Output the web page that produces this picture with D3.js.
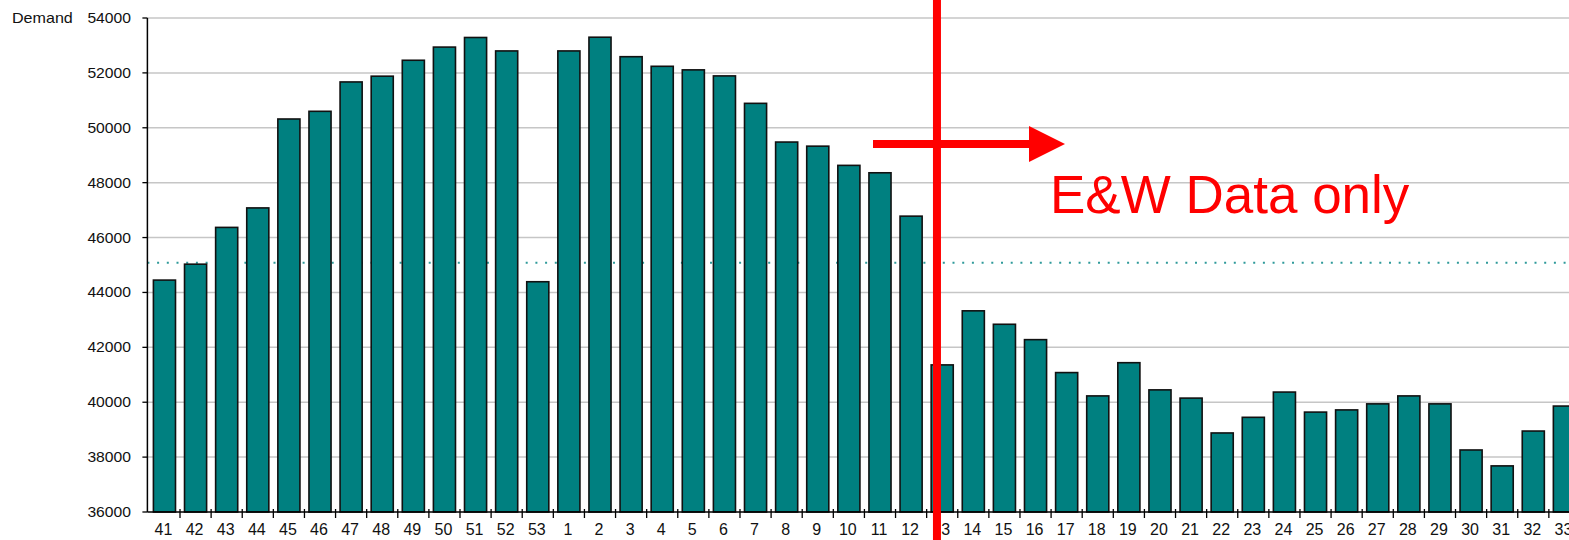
<!DOCTYPE html>
<html>
<head>
<meta charset="utf-8">
<script src="https://cdn.jsdelivr.net/npm/d3@7"></script>
<style>
  html, body { margin: 0; padding: 0; background: #fff; overflow: hidden; }
  text { font-family: "Liberation Sans", Arial, sans-serif; }
</style>
</head>
<body>
<div id="chart"></div>
<script>
// week numbers, Oct 2008 -> Aug 2009
const weeks = ["41","42","43","44","45","46","47","48","49","50","51","52","53",
  "1","2","3","4","5","6","7","8","9","10","11","12","13","14","15","16","17",
  "18","19","20","21","22","23","24","25","26","27","28","29","30","31","32","33"];
const demand = [44450, 45030, 46370, 47080, 50320, 50600, 51670, 51880, 52460, 52940, 53290, 52800, 44390,
  52800, 53300, 52590, 52240, 52110, 51890, 50890, 49480, 49330, 48630, 48360, 46780,
  41360, 43330, 42840, 42280, 41080, 40230, 41440, 40450, 40150, 38880, 39450,
  40370, 39640, 39720, 39940, 40230, 39940, 38260, 37680, 38950, 39860];
const yTicks = [36000, 38000, 40000, 42000, 44000, 46000, 48000, 50000, 52000, 54000];
const averageLine = 45080;
const splitWeek = "13";
const noteText = "E&W Data only";

/** CONSTANTS */
const width = 1569,
  height = 540,
  step = 31.11,
  margin = { top: 18, bottom: 28, left: 148.9 };

/** SCALES */
const xScale = d3.scaleBand()
  .domain(weeks)
  .range([margin.left, margin.left + step * weeks.length])
  .paddingInner(0.29)
  .paddingOuter(0.145);

const yScale = d3.scaleLinear()
  .domain([36000, 54000])
  .range([height - margin.bottom, margin.top]);

const svg = d3.select("#chart")
  .append("svg")
  .attr("width", width)
  .attr("height", height);

const x0 = margin.left - 1.5;
const yBase = yScale(36000);

// gridlines
svg.append("g")
  .selectAll("line")
  .data(yTicks.slice(1))
  .join("line")
  .attr("x1", x0)
  .attr("x2", width)
  .attr("y1", d => yScale(d))
  .attr("y2", d => yScale(d))
  .attr("stroke", "#c6c6c6")
  .attr("stroke-width", 1.5);

// dotted average line (sits behind the bars)
svg.append("line")
  .attr("x1", x0)
  .attr("x2", width)
  .attr("y1", yScale(averageLine))
  .attr("y2", yScale(averageLine))
  .attr("stroke", "#2f9a9a")
  .attr("stroke-width", 2)
  .attr("stroke-dasharray", "2,7.7");

// bars
svg.append("g")
  .selectAll("rect")
  .data(weeks.map((w, i) => ({ week: w, value: demand[i] })))
  .join("rect")
  .attr("x", d => xScale(d.week))
  .attr("y", d => yScale(d.value))
  .attr("width", xScale.bandwidth())
  .attr("height", d => yBase - yScale(d.value))
  .attr("fill", "#008080")
  .attr("stroke", "#111")
  .attr("stroke-width", 1.6);

// y axis
svg.append("line")
  .attr("x1", x0).attr("x2", x0)
  .attr("y1", yScale(54000)).attr("y2", yBase)
  .attr("stroke", "#000").attr("stroke-width", 1.5);

svg.append("g")
  .selectAll("line")
  .data(yTicks)
  .join("line")
  .attr("x1", x0 - 5).attr("x2", x0)
  .attr("y1", d => yScale(d)).attr("y2", d => yScale(d))
  .attr("stroke", "#000").attr("stroke-width", 1.3);

svg.append("g")
  .selectAll("text")
  .data(yTicks)
  .join("text")
  .attr("transform", d => `translate(131, ${yScale(d) + 5}) scale(1.12,1)`)
  .attr("text-anchor", "end")
  .attr("font-size", 14)
  .attr("fill", "#111")
  .text(d => d);

svg.append("text")
  .attr("transform", `translate(12, ${yScale(54000) + 5}) scale(1.15,1)`)
  .attr("font-size", 14)
  .attr("fill", "#111")
  .text("Demand");

// x axis
svg.append("line")
  .attr("x1", x0).attr("x2", width)
  .attr("y1", yBase).attr("y2", yBase)
  .attr("stroke", "#000").attr("stroke-width", 1.5);

const outer = xScale.paddingOuter() * xScale.step();
svg.append("g")
  .selectAll("line")
  .data(weeks.slice(1))
  .join("line")
  .attr("x1", d => xScale(d) - outer)
  .attr("x2", d => xScale(d) - outer)
  .attr("y1", yBase - 3)
  .attr("y2", yBase + 6)
  .attr("stroke", "#000").attr("stroke-width", 1.3);

svg.append("g")
  .selectAll("text")
  .data(weeks)
  .join("text")
  .attr("x", d => xScale(d) + xScale.bandwidth() / 2 - 1)
  .attr("y", yBase + 23)
  .attr("text-anchor", "middle")
  .attr("font-size", 16)
  .attr("fill", "#111")
  .text(d => d);

// red annotation
const splitX = xScale(splitWeek) + 5.8;
const arrowY = yScale(49410);
svg.append("line")
  .attr("x1", splitX).attr("x2", splitX)
  .attr("y1", 0).attr("y2", height)
  .attr("stroke", "#ff0000").attr("stroke-width", 8);

svg.append("line")
  .attr("x1", 873).attr("x2", 1031)
  .attr("y1", arrowY).attr("y2", arrowY)
  .attr("stroke", "#ff0000").attr("stroke-width", 8);

svg.append("path")
  .attr("d", `M1029,${arrowY - 18} L1065,${arrowY} L1029,${arrowY + 18} Z`)
  .attr("fill", "#ff0000");

svg.append("text")
  .attr("x", 1050)
  .attr("y", 213)
  .attr("font-size", 53)
  .attr("fill", "#ff0000")
  .text(noteText);
</script>
</body>
</html>
